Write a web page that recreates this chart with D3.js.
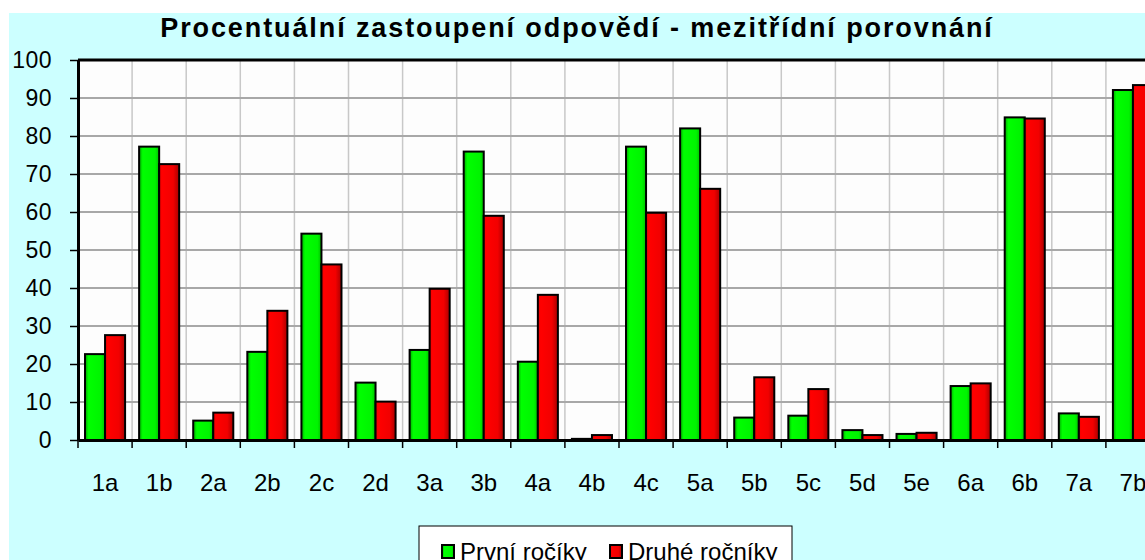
<!DOCTYPE html>
<html>
<head>
<meta charset="utf-8">
<script src="https://cdn.jsdelivr.net/npm/d3@7"></script>
<style>
  body { margin: 0; background: #fff; overflow: hidden; }
  text { font-family: Arial, "Liberation Sans", sans-serif; fill: #000; }
</style>
</head>
<body>
<div id="chart"></div>
<script>
const categories = ["1a", "1b", "2a", "2b", "2c", "2d", "3a", "3b", "4a", "4b",
  "4c", "5a", "5b", "5c", "5d", "5e", "6a", "6b", "7a", "7b"];
const prvni = [22.6, 77.2, 5.1, 23.2, 54.3, 15.1, 23.7, 75.9, 20.6, 0.3,
  77.2, 82.0, 5.9, 6.4, 2.6, 1.6, 14.2, 84.9, 7.0, 92.1];
const druhe = [27.6, 72.6, 7.2, 34.0, 46.2, 10.1, 39.8, 59.0, 38.2, 1.3,
  59.8, 66.1, 16.5, 13.4, 1.3, 1.9, 14.9, 84.6, 6.1, 93.4];
const seriesNames = ["První ročíky", "Druhé ročníky"];
const yTicks = [0, 10, 20, 30, 40, 50, 60, 70, 80, 90, 100];
const title = "Procentuální zastoupení odpovědí - mezitřídní porovnání";

const W = 1145, H = 560;
const plot = { left: 78, top: 60, right: 1160, bottom: 440 };

const svg = d3.select("#chart").append("svg")
  .attr("width", W)
  .attr("height", H);

const defs = svg.append("defs");
const gGreen = defs.append("linearGradient").attr("id", "gGreen");
[["0%", "#00a800"], ["18%", "#00ff00"], ["80%", "#00f400"], ["100%", "#00c000"]]
  .forEach(s => gGreen.append("stop").attr("offset", s[0]).attr("stop-color", s[1]));
const gRed = defs.append("linearGradient").attr("id", "gRed");
[["0%", "#f00000"], ["15%", "#ff0000"], ["70%", "#f20000"], ["100%", "#a80000"]]
  .forEach(s => gRed.append("stop").attr("offset", s[0]).attr("stop-color", s[1]));
const fills = ["url(#gGreen)", "url(#gRed)"];

// cyan chart area
svg.append("rect")
  .attr("x", 9).attr("y", 13)
  .attr("width", W).attr("height", H)
  .attr("fill", "#ccffff");

svg.append("text")
  .attr("x", 577).attr("y", 37)
  .attr("text-anchor", "middle")
  .attr("font-size", 27)
  .attr("font-weight", "bold")
  .attr("letter-spacing", 1.9)
  .text(title);

const x0 = d3.scaleBand()
  .domain(categories)
  .range([plot.left, plot.right]);

const x1 = d3.scaleBand()
  .domain([0, 1])
  .range([0, x0.bandwidth()])
  .paddingOuter(0.35);

const y = d3.scaleLinear()
  .domain([0, 100])
  .range([plot.bottom, plot.top]);

// plot background
svg.append("rect")
  .attr("x", plot.left).attr("y", plot.top)
  .attr("width", plot.right - plot.left)
  .attr("height", plot.bottom - plot.top)
  .attr("fill", "#fdfdfd");

// vertical gridlines at category boundaries
svg.append("g")
  .selectAll("line")
  .data(categories.slice(1))
  .join("line")
  .attr("x1", d => x0(d)).attr("x2", d => x0(d))
  .attr("y1", plot.top).attr("y2", plot.bottom)
  .attr("stroke", "#c8c8c8")
  .attr("stroke-width", 1.5);

// horizontal gridlines
svg.append("g")
  .selectAll("line")
  .data(yTicks.slice(1, -1))
  .join("line")
  .attr("x1", plot.left).attr("x2", plot.right)
  .attr("y1", d => y(d)).attr("y2", d => y(d))
  .attr("stroke", "#a8a8a8")
  .attr("stroke-width", 2);

// bars
const groups = svg.append("g")
  .selectAll("g")
  .data(categories)
  .join("g")
  .attr("transform", d => `translate(${x0(d)},0)`);

groups.selectAll("rect")
  .data((d, i) => [prvni[i], druhe[i]])
  .join("rect")
  .attr("x", (d, j) => x1(j))
  .attr("y", d => y(d))
  .attr("width", x1.bandwidth())
  .attr("height", d => y(0) - y(d))
  .attr("fill", (d, j) => fills[j])
  .attr("stroke", "#000")
  .attr("stroke-width", 2);

// frame: top thick line
svg.append("line")
  .attr("x1", plot.left).attr("x2", plot.right)
  .attr("y1", plot.top).attr("y2", plot.top)
  .attr("stroke", "#000").attr("stroke-width", 3);

// y axis
const yAxis = svg.append("g")
  .attr("transform", `translate(${plot.left},0)`)
  .call(d3.axisLeft(y).tickValues(yTicks).tickSize(8).tickSizeOuter(0).tickPadding(18));
yAxis.select(".domain").attr("stroke-width", 3);
yAxis.selectAll(".tick line").attr("stroke-width", 1.5);
yAxis.selectAll("text")
  .attr("font-size", 23)
  .attr("letter-spacing", 0.5)
  .attr("font-family", "Arial, 'Liberation Sans', sans-serif");

// x axis
const xAxis = svg.append("g")
  .attr("transform", `translate(0,${plot.bottom})`)
  .call(d3.axisBottom(x0).tickSize(0).tickPadding(34));
xAxis.select(".domain").attr("stroke-width", 3);
xAxis.selectAll("text")
  .attr("font-size", 24)
  .attr("font-family", "Arial, 'Liberation Sans', sans-serif");

// x tick marks at category boundaries
xAxis.append("g")
  .selectAll("line")
  .data(categories)
  .join("line")
  .attr("x1", d => x0(d)).attr("x2", d => x0(d))
  .attr("y1", 0).attr("y2", 8)
  .attr("stroke", "#000")
  .attr("stroke-width", 1.5);

// legend
const legend = svg.append("g").attr("transform", "translate(419,526)");
legend.append("rect")
  .attr("width", 373).attr("height", 50)
  .attr("fill", "#fff")
  .attr("stroke", "#000")
  .attr("stroke-width", 1);

const legendX = [23, 191];
seriesNames.forEach((name, i) => {
  legend.append("rect")
    .attr("x", legendX[i]).attr("y", 19)
    .attr("width", 12).attr("height", 13)
    .attr("fill", fills[i])
    .attr("stroke", "#000")
    .attr("stroke-width", 2);
  legend.append("text")
    .attr("x", legendX[i] + 18).attr("y", 34)
    .attr("font-size", 24)
    .text(name);
});
</script>
</body>
</html>
